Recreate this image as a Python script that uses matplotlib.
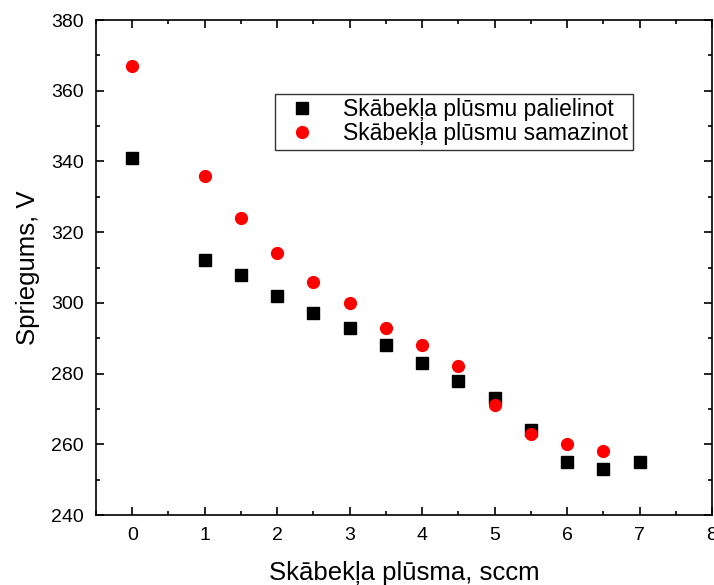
import matplotlib
matplotlib.use('Agg')
import matplotlib.pyplot as plt
from matplotlib.ticker import MultipleLocator

x_inc = [0, 1, 1.5, 2, 2.5, 3, 3.5, 4, 4.5, 5, 5.5, 6, 6.5, 7]
v_inc = [341, 312, 308, 302, 297, 293, 288, 283, 278, 273, 264, 255, 253, 255]
x_dec = [0, 1, 1.5, 2, 2.5, 3, 3.5, 4, 4.5, 5, 5.5, 6, 6.5]
v_dec = [367, 336, 324, 314, 306, 300, 293, 288, 282, 271, 263, 260, 258]

plt.rcParams['font.family'] = ['Liberation Sans', 'DejaVu Sans']

fig = plt.figure(figsize=(7.14, 5.85), dpi=100)
ax = fig.add_axes([96/714, 1-515/585, 616/714, 495/585])

ax.plot(x_inc, v_inc, 's', color='black', markersize=8.5, label='Skābekļa plūsmu palielinot')
ax.plot(x_dec, v_dec, 'o', color='red', markersize=8.5, label='Skābekļa plūsmu samazinot')

ax.set_xlim(-0.5, 8)
ax.set_ylim(240, 380)
ax.xaxis.set_major_locator(MultipleLocator(1))
ax.xaxis.set_minor_locator(MultipleLocator(0.5))
ax.yaxis.set_major_locator(MultipleLocator(20))
ax.yaxis.set_minor_locator(MultipleLocator(10))
ax.tick_params(which='both', direction='in', top=True, right=True, width=1.2)
ax.tick_params(which='major', length=6, labelsize=14, pad=9)
ax.tick_params(which='minor', length=3)
for s in ax.spines.values():
    s.set_linewidth(1.2)

ax.set_xlabel('Skābekļa plūsma, sccm', fontsize=18.5, labelpad=12)
ax.set_ylabel('Spriegums, V', fontsize=18.5, labelpad=8)

leg = ax.legend(loc='upper left', bbox_to_anchor=(0.29, 0.851), borderaxespad=0,
                fontsize=16.5, frameon=True, fancybox=False, edgecolor='black',
                handletextpad=0.8, borderpad=0.2, labelspacing=0.05, handlelength=2.0)
leg.get_frame().set_linewidth(1.0)

fig.savefig('out.png', dpi=100)
